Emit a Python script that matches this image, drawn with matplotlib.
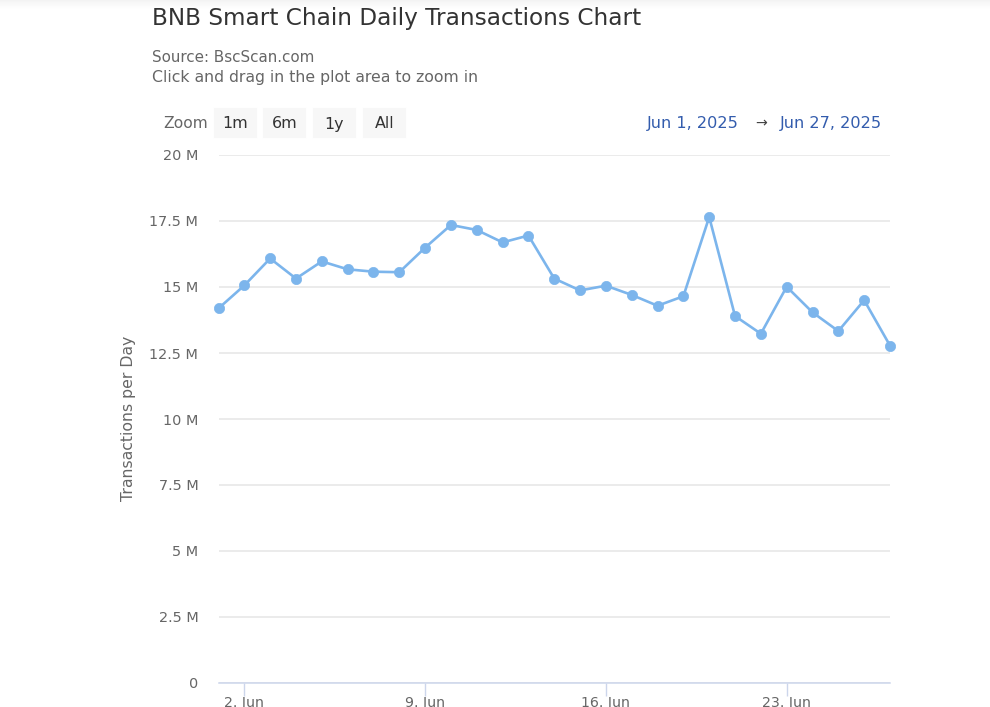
import datetime as dt
import numpy as np
import matplotlib
matplotlib.use("Agg")
import matplotlib.pyplot as plt
from matplotlib.patches import FancyBboxPatch

plt.rcParams['font.family'] = ['DejaVu Sans']

days = list(range(1, 28))
values_m = [14.19, 15.06, 16.08, 15.32, 15.97, 15.67, 15.58, 15.56, 16.49, 17.35,
            17.16, 16.69, 16.95, 15.32, 14.87, 15.05, 14.70, 14.29, 14.65, 17.65,
            13.90, 13.23, 15.01, 14.04, 13.33, 14.50, 12.78]
y_ticks = [0, 2.5, 5, 7.5, 10, 12.5, 15, 17.5, 20]
y_labels = ['0', '2.5 M', '5 M', '7.5 M', '10 M', '12.5 M', '15 M', '17.5 M', '20 M']
x_tick_days = [2, 9, 16, 23]
x_labels = ['2. Jun', '9. Jun', '16. Jun', '23. Jun']
buttons = ['1m', '6m', '1y', 'All']
title = 'BNB Smart Chain Daily Transactions Chart'

W, H = 990, 707
dates = [dt.datetime(2025, 6, d) for d in days]
fig = plt.figure(figsize=(W / 100, H / 100), dpi=100, facecolor='white')

def fx(x): return x / W
def fy(y): return 1 - y / H

ax = fig.add_axes([fx(218.5), fy(683), (890 - 218.5) / W, (683 - 155) / H])
ax.set_xlim(dates[0], dates[-1])
ax.set_ylim(0, 20)
ax.plot(dates, values_m, color='#7cb5ec', lw=1.9, marker='o', ms=7.4,
        mec='#7cb5ec', mew=0.5, clip_on=False, zorder=5)

ax.set_yticks(y_ticks, y_labels)
ax.set_xticks([dt.datetime(2025, 6, d) for d in x_tick_days], x_labels)
ax.grid(axis='y', color='#e6e6e6', lw=1.1)
ax.set_axisbelow(True)
for s in ['top', 'right', 'left']:
    ax.spines[s].set_visible(False)
ax.spines['bottom'].set_color('#ccd6eb')
ax.spines['bottom'].set_linewidth(1.1)
ax.tick_params(axis='y', length=0, pad=14.5, labelsize=10.4, labelcolor='#666666')
ax.tick_params(axis='x', length=9, width=1, color='#ccd6eb', pad=0.2,
               labelsize=10.2, labelcolor='#666666')

fig.text(fx(128), fy(418.5), 'Transactions per Day', rotation=90, ha='center', va='center',
         fontsize=11.3, color='#666666')

fig.text(fx(152), fy(18), title, ha='left', va='center', fontsize=16.7, color='#333333')
fig.text(fx(152), fy(57.5), 'Source: BscScan.com', ha='left', va='center', fontsize=10.9, color='#666666')
fig.text(fx(152), fy(77.5), 'Click and drag in the plot area to zoom in', ha='left', va='center',
         fontsize=11.3, color='#666666')

fig.text(fx(163), fy(124), 'Zoom', ha='left', va='center', fontsize=11.2, color='#666666')
for lab, left in zip(buttons, [214, 263, 313, 363]):
    fig.add_artist(FancyBboxPatch((fx(left + 1), fy(137)), 41 / W, 28 / H,
                                  boxstyle='round,pad=0', transform=fig.transFigure,
                                  fc='#f7f7f7', ec='#f7f7f7', lw=1.5))
    fig.text(fx(left + 21.5), fy(124), lab, ha='center', va='center', fontsize=11.4, color='#333333')

fig.text(fx(647), fy(123.5), 'Jun 1, 2025', ha='left', va='center', fontsize=11.6, color='#335cad')
fig.text(fx(761), fy(123), '→', ha='center', va='center', fontsize=10.2, color='#444444')
fig.text(fx(780), fy(123.5), 'Jun 27, 2025', ha='left', va='center', fontsize=11.6, color='#335cad')

# faint shadow along the top edge
grad = np.linspace(0.955, 1, 10).reshape(-1, 1)
sh = fig.add_axes([0, fy(10), 1, 10 / H], zorder=-1)
sh.imshow(grad, aspect='auto', cmap='gray', vmin=0, vmax=1)
sh.axis('off')

fig.savefig('out.png', dpi=100)
